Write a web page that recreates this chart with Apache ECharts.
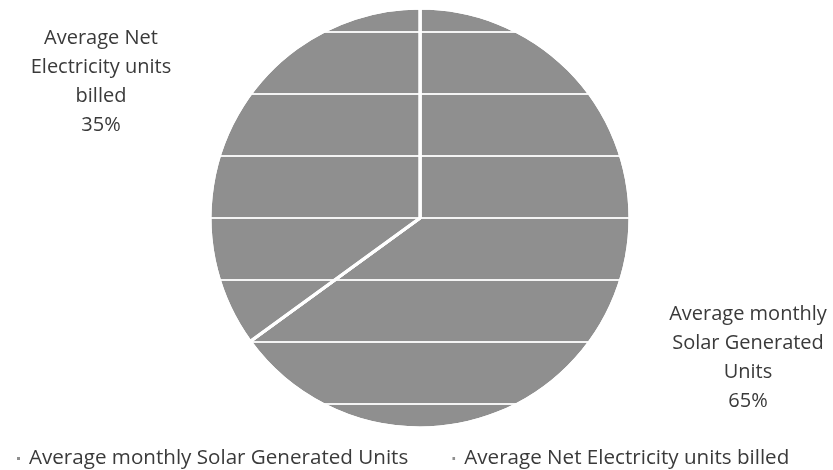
<!DOCTYPE html>
<html>
<head>
<meta charset="utf-8">
<script src="https://cdn.jsdelivr.net/npm/echarts@6/dist/echarts.min.js"></script>
<style>html,body{margin:0;padding:0;background:#fff}#c{width:833px;height:470px}</style>
</head>
<body>
<div id="c"></div>
<script>
const categories = ['Average monthly Solar Generated Units', 'Average Net Electricity units billed'];
const labelNames = ['Average monthly\nSolar Generated\nUnits', 'Average Net\nElectricity units\nbilled'];
const values = [65, 35];

const labelPos = [
  { x: 748, y: 358 },
  { x: 101, y: 82 }
];

const FONT = '"Open Sans", sans-serif';

const chart = echarts.init(document.getElementById('c'));
const decal = {
  symbol: 'rect',
  symbolSize: 1,
  dashArrayX: [1, 0],
  dashArrayY: [0, 31, 2, 29],
  color: 'rgba(255,255,255,0.9)',
  rotation: 0
};
chart.setOption({
  animation: false,
  backgroundColor: '#ffffff',
  textStyle: { fontFamily: FONT },
  legend: {
    top: 443,
    left: 10,
    itemWidth: 5,
    itemHeight: 5,
    itemGap: 42,
    icon: 'rect',
    textStyle: { fontSize: 20.6, color: '#3a3a3a', fontFamily: FONT, padding: [0, 0, 0, 3] },
    data: categories
  },
  series: [{
    type: 'pie',
    center: [420, 218],
    radius: 210,
    startAngle: 90,
    clockwise: true,
    data: categories.map((c, i) => ({ name: c, value: values[i] })),
    itemStyle: {
      color: '#8f8f8f',
      borderColor: '#ffffff',
      borderWidth: 3,
      decal: decal
    },
    label: {
      show: true,
      position: 'outside',
      formatter: function (p) { return labelNames[p.dataIndex] + '\n' + p.percent + '%'; },
      fontSize: 20,
      lineHeight: 29,
      color: '#3a3a3a',
      align: 'center',
      fontFamily: FONT
    },
    labelLine: { show: false },
    labelLayout: function (p) {
      const pos = labelPos[p.dataIndex];
      return { x: pos.x, y: pos.y, align: 'center', verticalAlign: 'middle' };
    },
    emphasis: { disabled: true }
  }]
});
</script>
</body>
</html>
